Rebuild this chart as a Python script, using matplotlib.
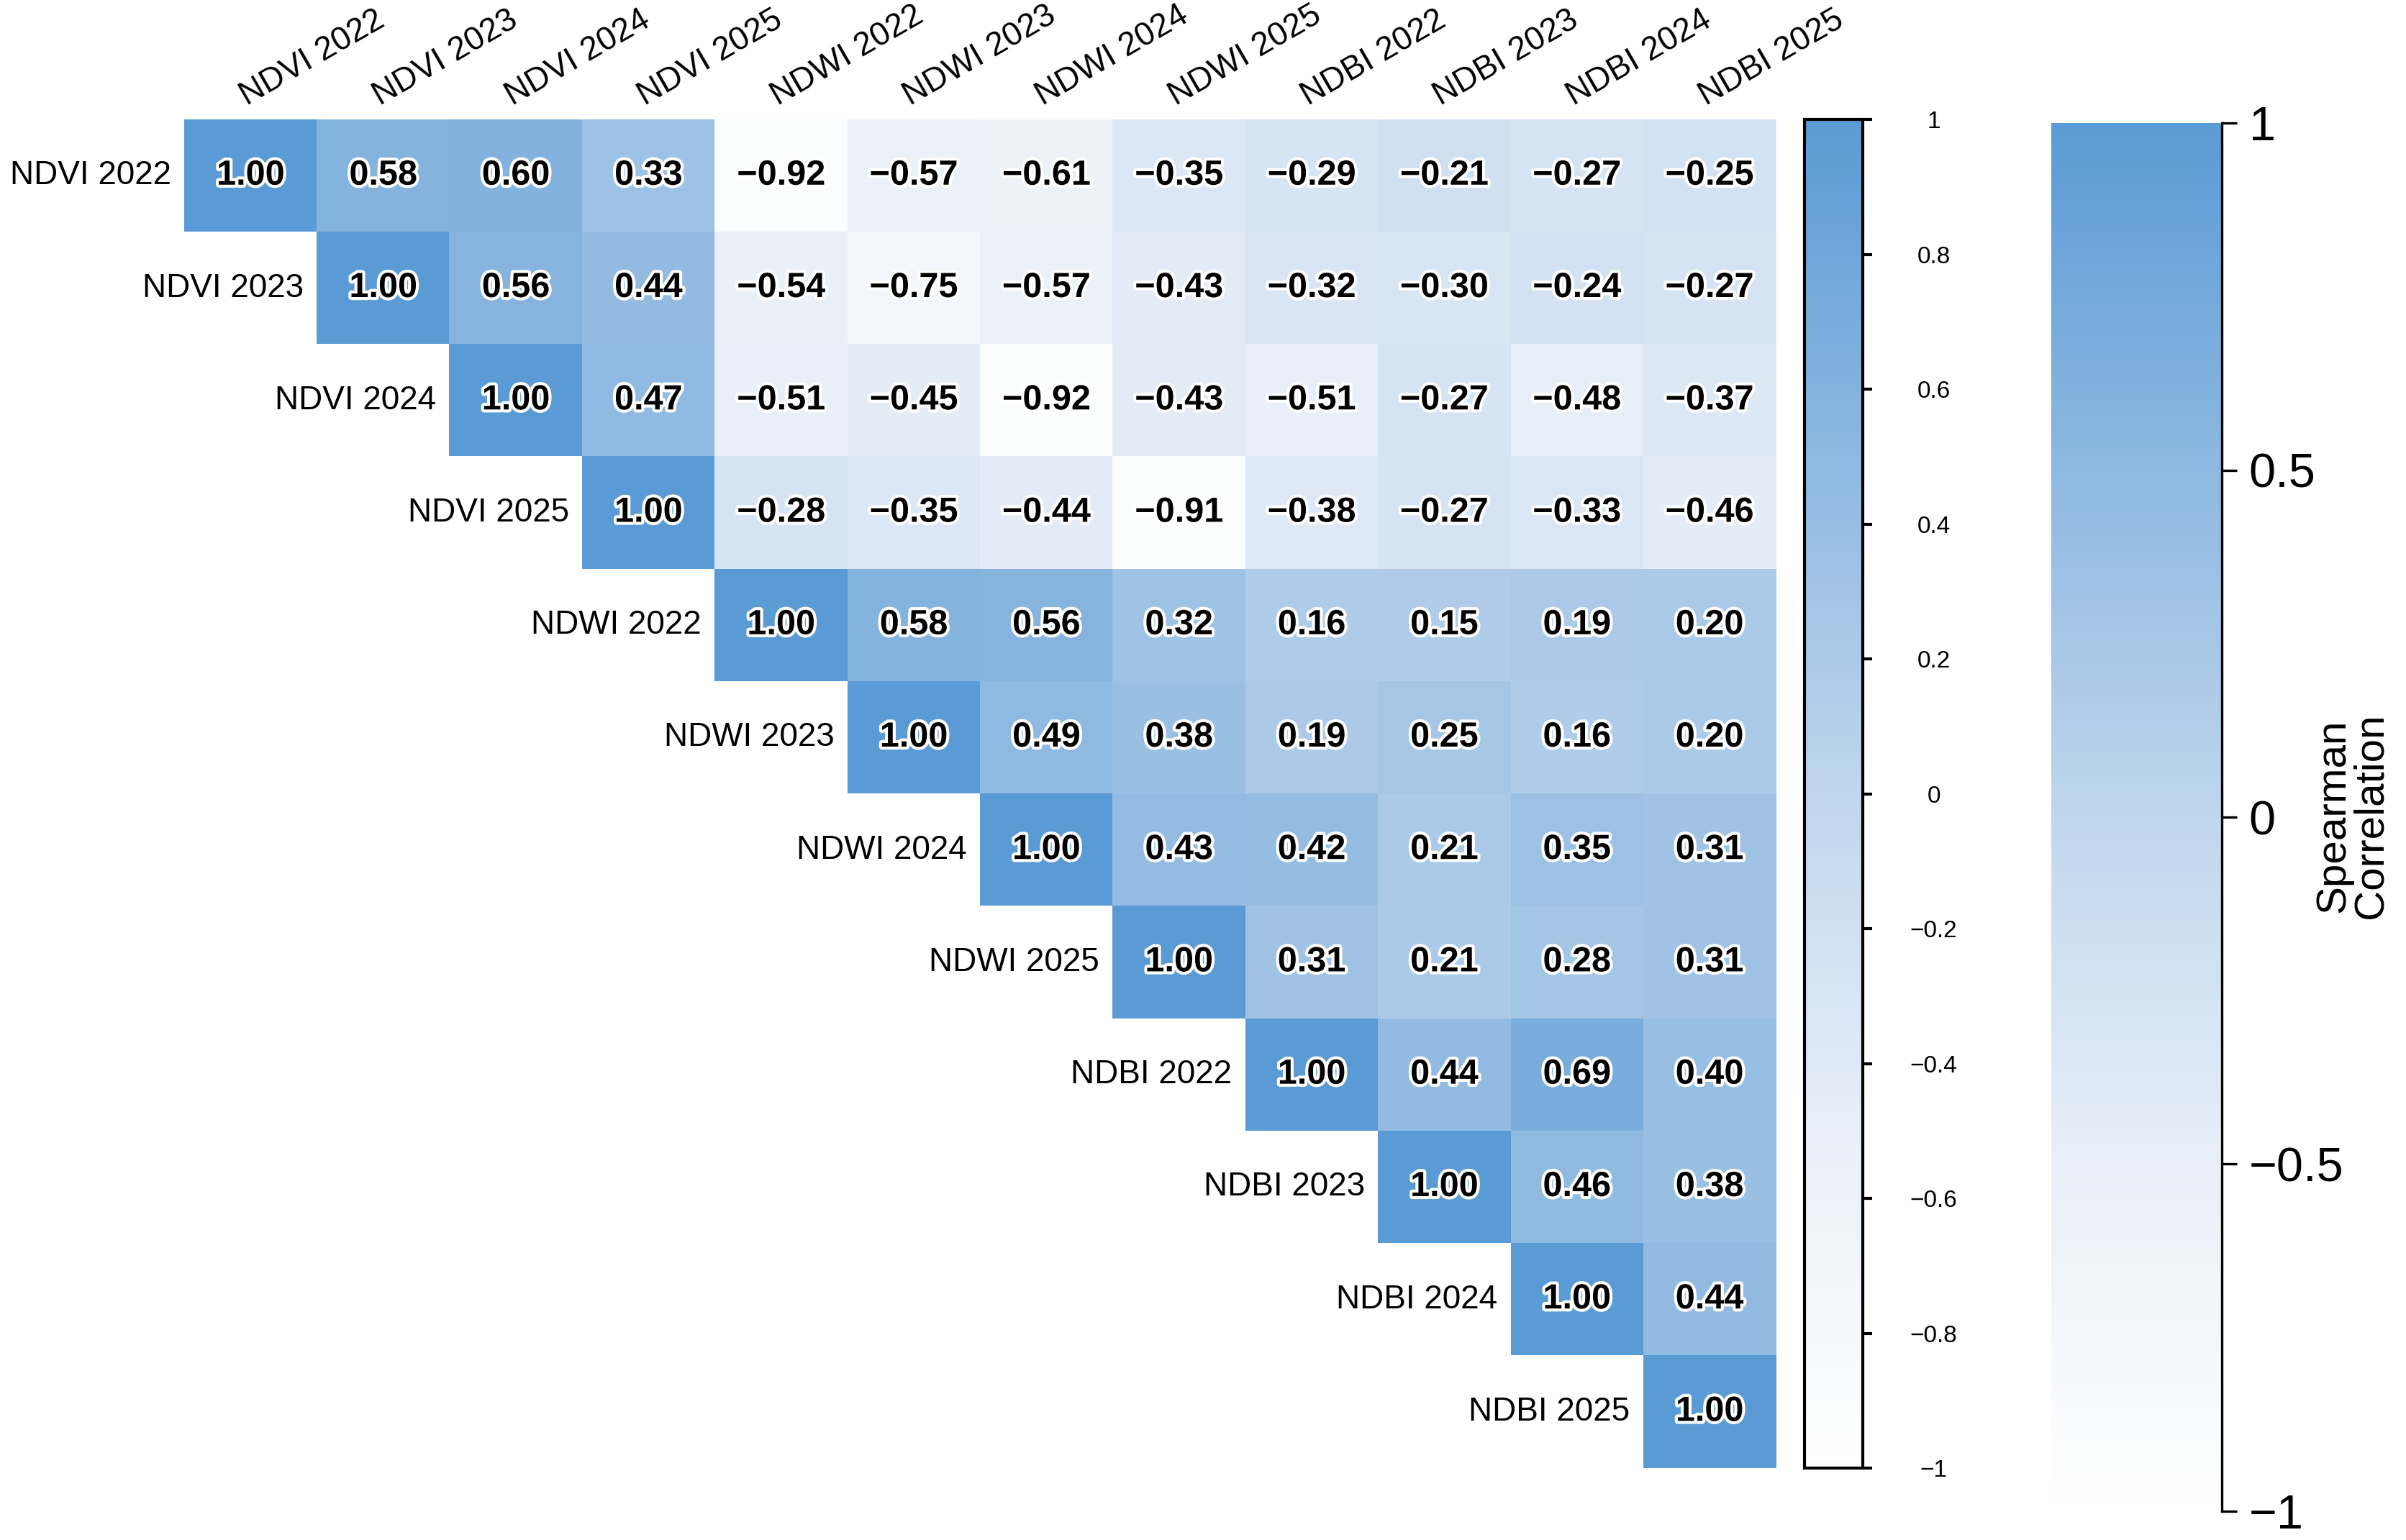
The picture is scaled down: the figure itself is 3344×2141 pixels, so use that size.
import numpy as np
import matplotlib
matplotlib.use('Agg')
import matplotlib.pyplot as plt
import matplotlib.patheffects as pe
from matplotlib.colors import LinearSegmentedColormap
from matplotlib.cm import ScalarMappable
from matplotlib.colors import Normalize

plt.rcParams['font.family'] = ['Liberation Sans', 'DejaVu Sans']

# Variables (rows / columns)
labels = ['NDVI 2022', 'NDVI 2023', 'NDVI 2024', 'NDVI 2025',
          'NDWI 2022', 'NDWI 2023', 'NDWI 2024', 'NDWI 2025',
          'NDBI 2022', 'NDBI 2023', 'NDBI 2024', 'NDBI 2025']

# Upper triangle of the Spearman matrix, row by row (starting at the diagonal)
row_ndvi_2022 = [1.00, 0.58, 0.60, 0.33, -0.92, -0.57, -0.61, -0.35, -0.29, -0.21, -0.27, -0.25]
row_ndvi_2023 = [1.00, 0.56, 0.44, -0.54, -0.75, -0.57, -0.43, -0.32, -0.30, -0.24, -0.27]
row_ndvi_2024 = [1.00, 0.47, -0.51, -0.45, -0.92, -0.43, -0.51, -0.27, -0.48, -0.37]
row_ndvi_2025 = [1.00, -0.28, -0.35, -0.44, -0.91, -0.38, -0.27, -0.33, -0.46]
row_ndwi_2022 = [1.00, 0.58, 0.56, 0.32, 0.16, 0.15, 0.19, 0.20]
row_ndwi_2023 = [1.00, 0.49, 0.38, 0.19, 0.25, 0.16, 0.20]
row_ndwi_2024 = [1.00, 0.43, 0.42, 0.21, 0.35, 0.31]
row_ndwi_2025 = [1.00, 0.31, 0.21, 0.28, 0.31]
row_ndbi_2022 = [1.00, 0.44, 0.69, 0.40]
row_ndbi_2023 = [1.00, 0.46, 0.38]
row_ndbi_2024 = [1.00, 0.44]
row_ndbi_2025 = [1.00]

rows = [row_ndvi_2022, row_ndvi_2023, row_ndvi_2024, row_ndvi_2025,
        row_ndwi_2022, row_ndwi_2023, row_ndwi_2024, row_ndwi_2025,
        row_ndbi_2022, row_ndbi_2023, row_ndbi_2024, row_ndbi_2025]

small_ticks = [1, 0.8, 0.6, 0.4, 0.2, 0, -0.2, -0.4, -0.6, -0.8, -1]
big_ticks = [1, 0.5, 0, -0.5, -1]


def fmt(v, spec):
    return format(v, spec).replace('-', '\u2212')


n = len(labels)
corr = np.full((n, n), np.nan)
for i, r in enumerate(rows):
    corr[i, i:] = r
masked = np.ma.masked_invalid(corr)

# white -> pale blue -> steel blue (lighter on the negative side)
cmap = LinearSegmentedColormap.from_list(
    'wb', [(0.0, '#ffffff'), (0.25, '#e8eff8'), (0.5, '#c0d6ed'), (1.0, '#5b9bd5')])
cmap.set_bad((1, 1, 1, 0))
norm = Normalize(vmin=-1, vmax=1)

fig = plt.figure(figsize=(16.72, 10.705), dpi=200)
ax = fig.add_axes([0.0766, 0.0467, 0.6615, 0.8757])
ax.imshow(masked, cmap=cmap, norm=norm, aspect='auto', interpolation='nearest')
ax.set_xlim(-0.5, n - 0.5)
ax.set_ylim(n - 0.5, -0.5)
ax.axis('off')

halo = [pe.withStroke(linewidth=3, foreground='white')]
for i in range(n):
    # row label next to the diagonal cell
    ax.text(i - 0.6, i, labels[i], ha='right', va='center', fontsize=16.5)
    # column label on top, rotated
    ax.text(i, -0.57, labels[i], ha='left', va='bottom', fontsize=16.5,
            rotation=30, rotation_mode='anchor')
    for j in range(i, n):
        ax.text(j, i, fmt(corr[i, j], '.2f'), ha='center', va='center',
                fontsize=17.5, fontweight='bold', color='black', path_effects=halo)

sm = ScalarMappable(norm=norm, cmap=cmap)

# Small colorbar next to the matrix
cax1 = fig.add_axes([0.75, 0.0467, 0.0242, 0.8757])
cb1 = fig.colorbar(sm, cax=cax1)
cb1.outline.set_linewidth(1.5)
cb1.set_ticks(small_ticks)
cb1.set_ticklabels([fmt(t, 'g') for t in small_ticks])
cax1.tick_params(length=4.5, width=1.5, pad=31, labelsize=12)
for t in cax1.get_yticklabels():
    t.set_horizontalalignment('center')

# Large colorbar with title
cax2 = fig.add_axes([0.8526, 0.0187, 0.0709, 0.9014])
cb2 = fig.colorbar(sm, cax=cax2)
cb2.outline.set_visible(False)
cax2.plot([1, 1], [0, 1], transform=cax2.transAxes, color='black', lw=1.2, clip_on=False)
cb2.set_ticks(big_ticks)
cb2.set_ticklabels([fmt(t, 'g') for t in big_ticks])
cax2.tick_params(length=7.5, width=1.2, pad=6, labelsize=24)
fig.text(0.9777, 0.47, 'Spearman\nCorrelation', rotation=90, ha='center', va='center',
         fontsize=21, linespacing=0.95)

fig.savefig('out.png', dpi=200)
